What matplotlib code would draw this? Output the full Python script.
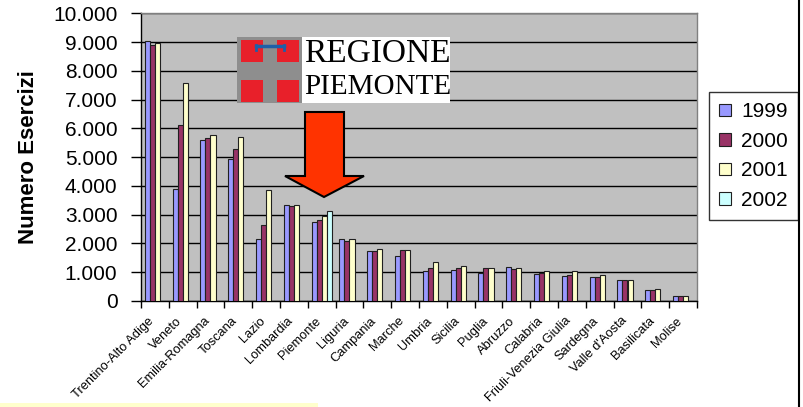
import numpy as np
import matplotlib
matplotlib.use("Agg")
import matplotlib.pyplot as plt
from matplotlib.patches import Rectangle, Polygon
from matplotlib.lines import Line2D
from matplotlib.ticker import FuncFormatter, FixedLocator
from matplotlib.transforms import ScaledTranslation

plt.rcParams["font.family"] = ["Liberation Sans", "DejaVu Sans"]

regioni = ["Trentino-Alto Adige", "Veneto", "Emilia-Romagna", "Toscana", "Lazio",
           "Lombardia", "Piemonte", "Liguria", "Campania", "Marche", "Umbria",
           "Sicilia", "Puglia", "Abruzzo", "Calabria", "Friuli-Venezia Giulia",
           "Sardegna", "Valle d'Aosta", "Basilicata", "Molise"]

anni = ["1999", "2000", "2001", "2002"]

v1999 = [9030, 3890, 5585, 4940, 2140, 3330, 2740, 2140, 1730, 1570, 1045,
         1090, 975, 1195, 930, 860, 825, 720, 370, 165]
v2000 = [8900, 6110, 5655, 5285, 2625, 3290, 2800, 2090, 1730, 1765, 1160,
         1160, 1160, 1115, 975, 905, 825, 720, 370, 165]
v2001 = [8965, 7585, 5760, 5690, 3860, 3330, 2960, 2140, 1800, 1765, 1350,
         1230, 1160, 1160, 1055, 1055, 905, 720, 420, 165]
v2002 = [np.nan] * 6 + [3145] + [np.nan] * 13

colori = ["#9999FF", "#993366", "#FFFFCC", "#CCFFFF"]

W, H = 804, 407


def px(x, y):
    # pixel position -> figure fraction
    return (x / W, 1 - y / H)


fig = plt.figure(figsize=(W / 100, H / 100), dpi=100)
fig.patch.set_facecolor("white")
ax = fig.add_axes([141 / W, 1 - 301 / H, (697 - 141) / W, (301 - 13.3) / H])
ax.set_facecolor("#C0C0C0")

x = np.arange(len(regioni))
w = 0.18
for i, (serie, col) in enumerate(zip([v1999, v2000, v2001, v2002], colori)):
    ax.bar(x + (i - 1.5) * w, serie, width=w, color=col, edgecolor="#202020",
           linewidth=0.8, label=anni[i], zorder=3)

ax.set_xlim(-0.5, len(regioni) - 0.5)
ax.set_ylim(0, 10000)
ax.set_yticks(range(0, 10001, 1000))
ax.yaxis.set_major_formatter(FuncFormatter(lambda v, p: f"{int(v):,}".replace(",", ".")))
ax.yaxis.grid(True, color="black", linewidth=1)
ax.set_axisbelow(True)
ax.tick_params(axis="y", direction="out", length=7, width=1, labelsize=15, pad=10)

ax.xaxis.set_major_locator(FixedLocator(np.arange(-0.5, len(regioni), 1.0)))
ax.xaxis.set_minor_locator(FixedLocator(x))
ax.set_xticklabels([], minor=False)
ax.set_xticks(x, regioni, minor=True)
ax.tick_params(axis="x", which="major", direction="out", length=5, width=1)
ax.tick_params(axis="x", which="minor", length=0, pad=10)
sposta = ScaledTranslation(-7 / 100, 0, fig.dpi_scale_trans)
for lab in ax.get_xticklabels(minor=True):
    lab.set_rotation(45)
    lab.set_ha("right")
    lab.set_va("top")
    lab.set_rotation_mode("anchor")
    lab.set_fontsize(9.3)
    lab.set_transform(lab.get_transform() + sposta)

for s in ["top", "right"]:
    ax.spines[s].set_color("#808080")
    ax.spines[s].set_linewidth(1)
ax.spines["left"].set_linewidth(1)
ax.spines["bottom"].set_linewidth(1)

ax.set_ylabel("Numero Esercizi", fontsize=16, fontweight="bold", labelpad=10)

leg = ax.legend(loc="upper left", bbox_to_anchor=px(709, 92),
                bbox_transform=fig.transFigure, borderaxespad=0, fontsize=15,
                frameon=True, fancybox=False, edgecolor="black",
                handlelength=0.55, handleheight=0.55, handletextpad=0.5,
                labelspacing=0.5, borderpad=0.5)
leg.get_frame().set_linewidth(1)

# logo Regione Piemonte
tf = fig.transFigure
fig.patches.append(Rectangle(px(237, 103), 65 / W, 66 / H, transform=tf,
                             facecolor="#8E8E8E", edgecolor="none", zorder=5))
fig.patches.append(Rectangle(px(302, 103), 148 / W, 66 / H, transform=tf,
                             facecolor="white", edgecolor="none", zorder=5))
for (x0, y0) in [(241, 62), (277, 62), (241, 102), (277, 102)]:
    fig.patches.append(Rectangle(px(x0, y0), 22 / W, 22 / H, transform=tf,
                                 facecolor="#E8202A", edgecolor="none", zorder=6))
fig.lines.append(Line2D([256 / W, 284 / W], [1 - 46 / H, 1 - 46 / H], transform=tf,
                        color="#1F5FA8", linewidth=2.5, zorder=7))
fig.lines.append(Line2D([256 / W, 256 / W], [1 - 45 / H, 1 - 50 / H], transform=tf,
                        color="#1F5FA8", linewidth=2, zorder=7))
fig.lines.append(Line2D([284 / W, 284 / W], [1 - 45 / H, 1 - 50 / H], transform=tf,
                        color="#1F5FA8", linewidth=2, zorder=7))
fig.text(*px(304, 54), "REGIONE", family="Liberation Serif", fontsize=24,
         va="center", ha="left", zorder=8)
fig.text(*px(304, 87), "PIEMONTE", family="Liberation Serif", fontsize=21,
         va="center", ha="left", zorder=8)

# freccia
freccia = [(305, 112), (344, 112), (344, 176), (364, 176), (324, 197),
           (285, 176), (305, 176)]
fig.patches.append(Polygon([px(a, b) for a, b in freccia], closed=True,
                           transform=tf, facecolor="#FF3300", edgecolor="black",
                           linewidth=1.5, zorder=6))

# cornice
fig.patches.append(Rectangle((0, 0), 318 / W, 4 / H, transform=tf,
                             facecolor="#FFFFCC", edgecolor="none"))
fig.lines.append(Line2D([799 / W, 799 / W], [0, 1], transform=tf,
                        color="black", linewidth=1.5))

fig.savefig("out.png", dpi=100)
